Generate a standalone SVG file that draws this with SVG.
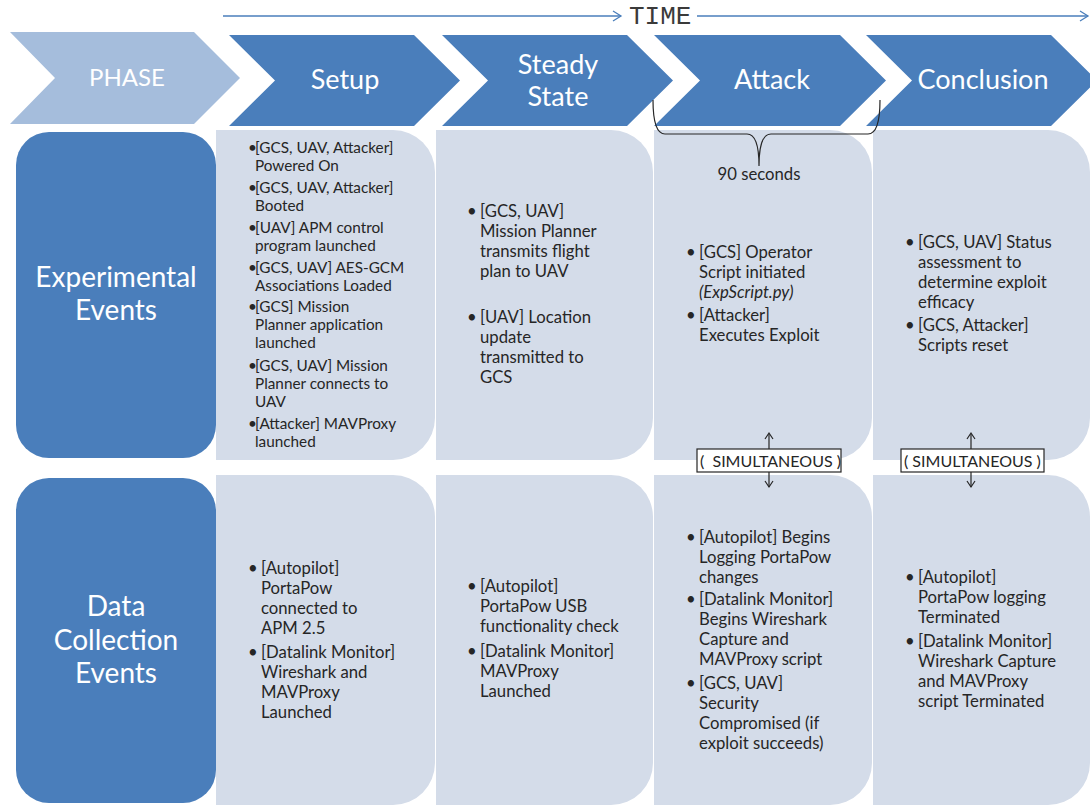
<svg xmlns="http://www.w3.org/2000/svg" width="1090" height="805" viewBox="0 0 1090 805">
<style>
.chev{fill:#4a7ebb}
.chevl{fill:#a5bddc}
.hdr{fill:#4a7ebb}
.cell{fill:#d4dce9}
.ct{font-family:Lato,"Liberation Sans",sans-serif;fill:#ffffff;text-anchor:middle}
.t{font-family:Lato,"Liberation Sans",sans-serif;fill:#262626;font-size:16.7px}
.s{font-family:Lato,"Liberation Sans",sans-serif;fill:#262626;font-size:15.3px}
.sm{font-family:Lato,"Liberation Sans",sans-serif;fill:#262626;font-size:16px;white-space:pre}
.it{font-style:italic}
.ln{fill:none;stroke:#262626;stroke-width:1.2}
.tl{fill:none;stroke:#4a7ebb;stroke-width:1.3}
.box{fill:#ffffff;stroke:#262626;stroke-width:1.2}
</style>
<rect width="1090" height="805" fill="#ffffff"/>

<g id="phase">
<polygon class="chevl" points="10,32 194,32 240,78 194,124 10,124 55,78"/>
<text class="ct" x="127" y="86" font-size="24">PHASE</text>
</g>
<g id="setup">
<polygon class="chev" points="229,35 414,35 460,80.5 414,126 229,126 275,80.5"/>
<text class="ct" x="345" y="89" font-size="27">Setup</text>
</g>
<g id="steady">
<polygon class="chev" points="442,35 627,35 673,80.5 627,126 442,126 488,80.5"/>
<text class="ct" x="558" y="74" font-size="27">Steady</text>
<text class="ct" x="558" y="106" font-size="27">State</text>
</g>
<g id="attack">
<polygon class="chev" points="654,35 840,35 886,80.5 840,126 654,126 700,80.5"/>
<text class="ct" x="772" y="89" font-size="27">Attack</text>
</g>
<g id="conclusion">
<polygon class="chev" points="866,35 1051,35 1097,80.5 1051,126 866,126 912,80.5"/>
<text class="ct" x="983" y="89" font-size="27">Conclusion</text>
</g>

<g id="hdr-experimental">
<rect class="hdr" x="16" y="132" width="200" height="326" rx="33" ry="33"/>
<text class="ct" x="116" y="287" font-size="28">Experimental</text>
<text class="ct" x="116" y="320" font-size="28">Events</text>
</g>
<g id="hdr-datacollection">
<rect class="hdr" x="16" y="478" width="200" height="325" rx="33" ry="33"/>
<text class="ct" x="116" y="616" font-size="28">Data</text>
<text class="ct" x="116" y="650" font-size="28">Collection</text>
<text class="ct" x="116" y="683" font-size="28">Events</text>
</g>

<g id="exp-setup">
<path class="cell" d="M216,130 H393 A42,42 0 0 1 435,172 V418 A42,42 0 0 1 393,460 H216 Z"/>
<g class="s">
<text x="248" y="153">•</text><text x="255" y="153">[GCS, UAV, Attacker]</text>
<text x="255" y="171">Powered On</text>
<text x="248" y="193">•</text><text x="255" y="193">[GCS, UAV, Attacker]</text>
<text x="255" y="211">Booted</text>
<text x="248" y="233">•</text><text x="255" y="233">[UAV] APM control</text>
<text x="255" y="251">program launched</text>
<text x="248" y="273">•</text><text x="255" y="273">[GCS, UAV] AES-GCM</text>
<text x="255" y="291">Associations Loaded</text>
<text x="248" y="312">•</text><text x="255" y="312">[GCS] Mission</text>
<text x="255" y="330">Planner application</text>
<text x="255" y="348">launched</text>
<text x="248" y="371">•</text><text x="255" y="371">[GCS, UAV] Mission</text>
<text x="255" y="389">Planner connects to</text>
<text x="255" y="407">UAV</text>
<text x="248" y="429">•</text><text x="255" y="429">[Attacker] MAVProxy</text>
<text x="255" y="447">launched</text>
</g>
</g>

<g id="exp-steady">
<path class="cell" d="M436,130 H611 A42,42 0 0 1 653,172 V418 A42,42 0 0 1 611,460 H436 Z"/>
<g class="t">
<text x="467" y="217">•</text><text x="480" y="217">[GCS, UAV]</text>
<text x="480" y="237">Mission Planner</text>
<text x="480" y="257">transmits flight</text>
<text x="480" y="277">plan to UAV</text>
<text x="467" y="323">•</text><text x="480" y="323">[UAV] Location</text>
<text x="480" y="343">update</text>
<text x="480" y="363">transmitted to</text>
<text x="480" y="383">GCS</text>
</g>
</g>

<g id="exp-attack">
<path class="cell" d="M654,130 H830 A42,42 0 0 1 872,172 V418 A42,42 0 0 1 830,460 H654 Z"/>
<g class="t">
<text x="759" y="180" text-anchor="middle">90 seconds</text>
<text x="686" y="258">•</text><text x="699" y="258">[GCS] Operator</text>
<text x="699" y="278">Script initiated</text>
<text x="699" y="298" class="it">(ExpScript.py)</text>
<text x="686" y="321">•</text><text x="699" y="321">[Attacker]</text>
<text x="699" y="341">Executes Exploit</text>
</g>
</g>

<g id="exp-conclusion">
<path class="cell" d="M873,130 H1048 A42,42 0 0 1 1090,172 V418 A42,42 0 0 1 1048,460 H873 Z"/>
<g class="t">
<text x="905" y="248">•</text><text x="918" y="248">[GCS, UAV] Status</text>
<text x="918" y="268">assessment to</text>
<text x="918" y="288">determine exploit</text>
<text x="918" y="308">efficacy</text>
<text x="905" y="331">•</text><text x="918" y="331">[GCS, Attacker]</text>
<text x="918" y="351">Scripts reset</text>
</g>
</g>

<g id="dc-setup">
<path class="cell" d="M216,475 H393 A42,42 0 0 1 435,517 V763 A42,42 0 0 1 393,805 H216 Z"/>
<g class="t">
<text x="248" y="574">•</text><text x="261" y="574">[Autopilot]</text>
<text x="261" y="594">PortaPow</text>
<text x="261" y="614">connected to</text>
<text x="261" y="634">APM 2.5</text>
<text x="248" y="658">•</text><text x="261" y="658">[Datalink Monitor]</text>
<text x="261" y="678">Wireshark and</text>
<text x="261" y="698">MAVProxy</text>
<text x="261" y="718">Launched</text>
</g>
</g>

<g id="dc-steady">
<path class="cell" d="M436,475 H611 A42,42 0 0 1 653,517 V763 A42,42 0 0 1 611,805 H436 Z"/>
<g class="t">
<text x="467" y="592">•</text><text x="480" y="592">[Autopilot]</text>
<text x="480" y="612">PortaPow USB</text>
<text x="480" y="632">functionality check</text>
<text x="467" y="657">•</text><text x="480" y="657">[Datalink Monitor]</text>
<text x="480" y="677">MAVProxy</text>
<text x="480" y="697">Launched</text>
</g>
</g>

<g id="dc-attack">
<path class="cell" d="M654,475 H830 A42,42 0 0 1 872,517 V763 A42,42 0 0 1 830,805 H654 Z"/>
<g class="t">
<text x="686" y="543">•</text><text x="699" y="543">[Autopilot] Begins</text>
<text x="699" y="563">Logging PortaPow</text>
<text x="699" y="583">changes</text>
<text x="686" y="605">•</text><text x="699" y="605">[Datalink Monitor]</text>
<text x="699" y="625">Begins Wireshark</text>
<text x="699" y="645">Capture and</text>
<text x="699" y="665">MAVProxy script</text>
<text x="686" y="689">•</text><text x="699" y="689">[GCS, UAV]</text>
<text x="699" y="709">Security</text>
<text x="699" y="729">Compromised (if</text>
<text x="699" y="749">exploit succeeds)</text>
</g>
</g>

<g id="dc-conclusion">
<path class="cell" d="M873,475 H1048 A42,42 0 0 1 1090,517 V763 A42,42 0 0 1 1048,805 H873 Z"/>
<g class="t">
<text x="905" y="583">•</text><text x="918" y="583">[Autopilot]</text>
<text x="918" y="603">PortaPow logging</text>
<text x="918" y="623">Terminated</text>
<text x="905" y="647">•</text><text x="918" y="647">[Datalink Monitor]</text>
<text x="918" y="667">Wireshark Capture</text>
<text x="918" y="687">and MAVProxy</text>
<text x="918" y="707">script Terminated</text>
</g>
</g>

<g id="timeline">
<line class="tl" x1="223" y1="16" x2="621" y2="16"/>
<polyline class="tl" points="613,11 621,16 613,21"/>
<line class="tl" x1="697" y1="16" x2="1088" y2="16"/>
<polyline class="tl" points="1080,11 1088,16 1080,21"/>
<text x="629" y="24" font-family="'Liberation Mono',monospace" font-size="26" fill="#3a3a3a">TIME</text>
</g>

<g id="connectors">
<path class="ln" d="M653,100 Q653,134 665,134 L747,134 Q759,134 759,166 Q759,134 771,134 L868,134 Q880,134 880,100"/>
<line class="ln" x1="769" y1="449" x2="769" y2="434"/>
<polyline class="ln" points="765,439 769,433 773,439"/>
<line class="ln" x1="769" y1="472" x2="769" y2="487"/>
<polyline class="ln" points="765,481 769,487 773,481"/>
<line class="ln" x1="971" y1="449" x2="971" y2="434"/>
<polyline class="ln" points="967,439 971,433 975,439"/>
<line class="ln" x1="971" y1="472" x2="971" y2="487"/>
<polyline class="ln" points="967,481 971,487 975,481"/>
</g>

<g id="simultaneous-1">
<rect class="box" x="697" y="449" width="144" height="23"/>
<text class="sm" x="700" y="467">(  SIMULTANEOUS )</text>
</g>
<g id="simultaneous-2">
<rect class="box" x="901" y="449" width="143" height="23"/>
<text class="sm" x="904" y="467">( SIMULTANEOUS )</text>
</g>
</svg>
